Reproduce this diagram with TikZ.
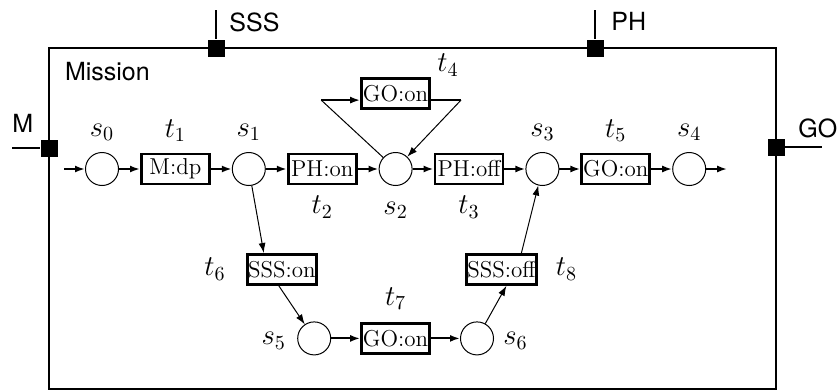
\documentclass[tikz,border=0pt]{standalone}
\usepackage{fontspec}
\newfontfamily\portfont{TeX Gyre Heros}
\usetikzlibrary{arrows.meta, positioning}

\begin{document}
\begin{tikzpicture}[
    x             = 0.5pt,
    y             = -0.5pt,
    node distance = 10.5pt,
    place/.style  = {draw, circle, line width=0.5pt, minimum size=16.5pt,
                     inner sep=0pt},
    trans/.style  = {draw, rectangle, line width=1.4pt, minimum width=34pt,
                     minimum height=15pt, inner xsep=0.3pt, inner ysep=0pt,
                     font=\fontsize{11.5}{13}\selectfont},
    lbl/.style    = {inner sep=0pt, text height=9pt, text depth=2.5pt,
                     font=\fontsize{14.4}{17}\selectfont},
    port/.style   = {fill, rectangle, minimum size=8.5pt, inner sep=0pt},
    portlbl/.style= {inner sep=0pt, font=\portfont\fontsize{12.5}{15}\selectfont},
    wire/.style   = {line width=1.4pt},
    arr/.style    = {-{Latex[length=5pt, width=3.5pt]}, line width=1pt},
    tarr/.style   = {-{Latex[length=5pt, width=3.5pt]}, line width=0.5pt},
  ]
  \useasboundingbox (0,0) rectangle (838,391);
  % component frame and its ports
  \node[draw, line width=1.4pt, minimum width=363.5pt, minimum height=170.5pt]
        (mission) at (412.5,218.5) {};
  \node[portlbl, below right=7.5pt and 8.5pt of mission.north west] (lmission) {Mission};
  \coordinate (eSSS) at (216,10);
  \coordinate (ePH) at (595,10);
  \coordinate (eM) at (12,148);
  \coordinate (eGO) at (822,147);
  \node[port] (pSSS) at (216,48) {};
  \node[port] (pPH) at (595,48) {};
  \node[port] (pM) at (49,148) {};
  \node[port] (pGO) at (776,147) {};
  \draw[wire] (eSSS) -- (pSSS);
  \draw[wire] (ePH) -- (pPH);
  \draw[wire] (eM) -- (pM);
  \draw[wire] (pGO) -- (eGO);
  \node[portlbl, anchor=west] (lSSS) at (229,22) {SSS};
  \node[portlbl, anchor=west] (lPH) at (611,21) {PH};
  \node[portlbl, anchor=west] (lM) at (12,123) {M};
  \node[portlbl, anchor=west] (lGO) at (798,128) {GO};
  % main row
  \node[place] (s0) at (102,169) {};
  \node[trans, right=of s0] (t1) {M:dp};
  \node[place, right=of t1] (s1) {};
  \node[trans, right=of s1] (t2) {PH:on};
  \node[place, right=of t2] (s2) {};
  \node[trans, right=of s2] (t3) {PH:off};
  \node[place, right=of t3] (s3) {};
  \node[trans, right=of s3] (t5) {GO:on};
  \node[place, right=of t5] (s4) {};
  \coordinate[left=of s0] (in0);
  \coordinate[right=of s4] (out4);
  % self loop on s2
  \node[trans, above=21pt of s2] (t4) {GO:on};
  \coordinate[left=19.5pt of t4, yshift=-3.25pt] (t4in);
  \coordinate[right=15pt of t4, yshift=-3.25pt] (t4out);
  % lower branch
  \node[trans, below=33.5pt of s1, xshift=16.5pt] (t6) {SSS:on};
  \node[trans, below=68pt of s2] (t7) {GO:on};
  \node[place, left=14.5pt of t7] (s5) {};
  \node[place, right=14.5pt of t7] (s6) {};
  \node[trans, below=33.5pt of s3, xshift=-20.5pt] (t8) {SSS:off};
  % labels
  \node[lbl, above=5pt of s0] (ls0) {$s_0$};
  \node[lbl, above=5pt of t1] (lt1) {$t_1$};
  \node[lbl, above=5pt of s1] (ls1) {$s_1$};
  \node[lbl, below=5pt of t2] (lt2) {$t_2$};
  \node[lbl, below=5pt of s2] (ls2) {$s_2$};
  \node[lbl, below=5pt of t3] (lt3) {$t_3$};
  \node[lbl, above=5pt of s3] (ls3) {$s_3$};
  \node[lbl, above=5pt of t5] (lt5) {$t_5$};
  \node[lbl, above=5pt of s4] (ls4) {$s_4$};
  \node[lbl, above right=0pt and 3pt of t4.north east] (lt4) {$t_4$};
  \node[lbl, left=10pt of t6] (lt6) {$t_6$};
  \node[lbl, above=5.5pt of t7] (lt7) {$t_7$};
  \node[lbl, right=9pt of t8] (lt8) {$t_8$};
  \node[lbl, left=5.5pt of s5] (ls5) {$s_5$};
  \node[lbl, right=4.5pt of s6] (ls6) {$s_6$};
  % arcs
  \draw[arr] (in0) -- (s0);
  \draw[arr] (s0) -- (t1);
  \draw[arr] (t1) -- (s1);
  \draw[arr] (s1) -- (t2);
  \draw[arr] (t2) -- (s2);
  \draw[arr] (s2) -- (t3);
  \draw[arr] (t3) -- (s3);
  \draw[arr] (s3) -- (t5);
  \draw[arr] (t5) -- (s4);
  \draw[arr] (s4) -- (out4);
  \draw[line width=0.5pt] (s2) -- (t4in);
  \draw[arr] (t4in) -- (t4in -| t4.west);
  \draw[line width=1pt] (t4in -| t4.east) -- (t4out);
  \draw[tarr] (t4out) -- (s2);
  \draw[tarr] (s1) -- ([xshift=-9pt]t6.north);
  \draw[tarr] ([xshift=-1.5pt]t6.south) -- (s5);
  \draw[arr] (s5) -- (t7);
  \draw[arr] (t7) -- (s6);
  \draw[tarr] (s6) -- ([xshift=2.5pt]t8.south);
  \draw[tarr] ([xshift=10pt]t8.north) -- (s3);
\end{tikzpicture}
\end{document}
